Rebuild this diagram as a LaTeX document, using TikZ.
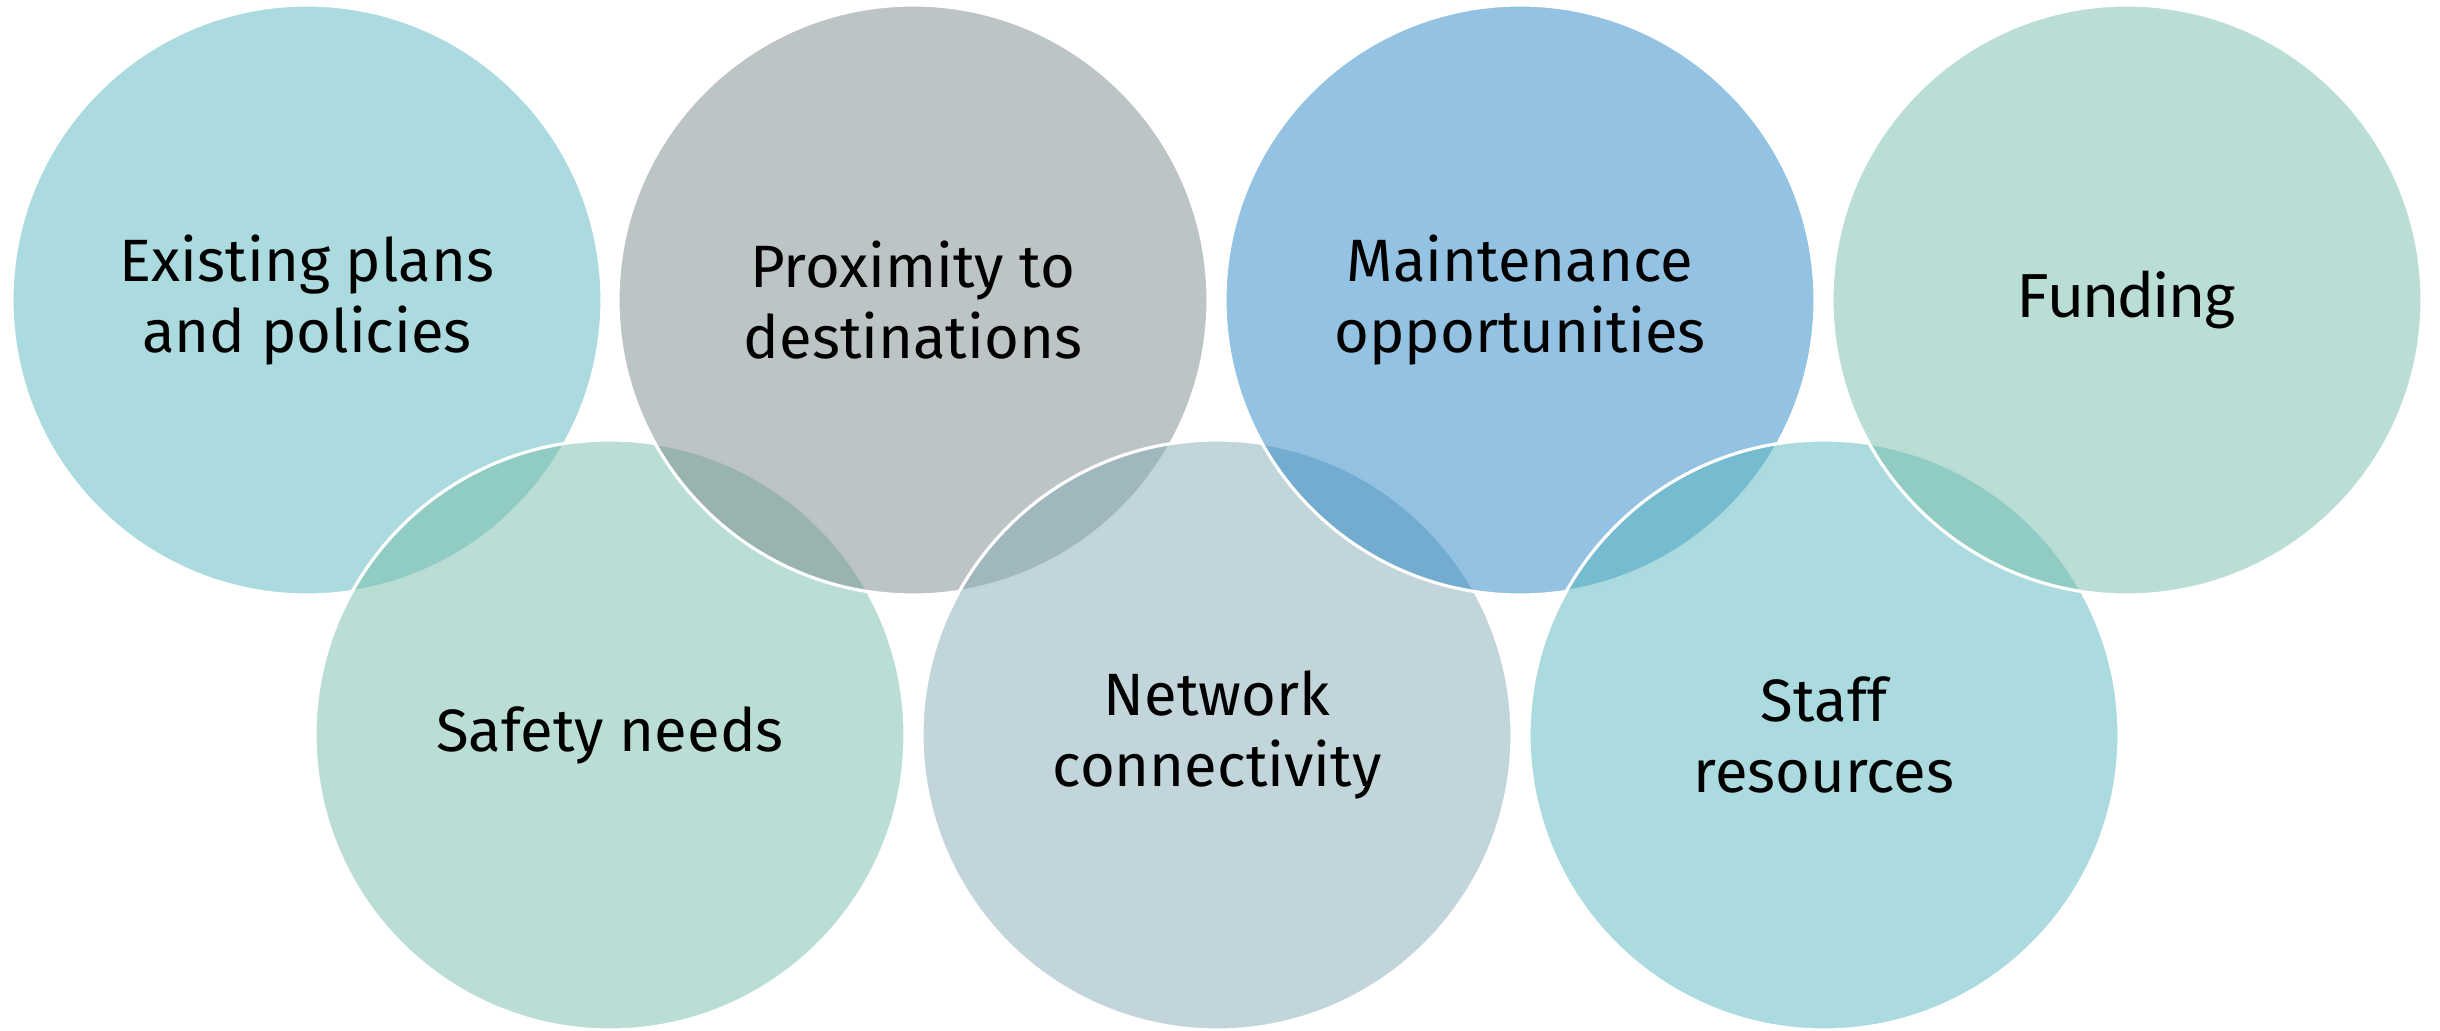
\documentclass[tikz,border=0pt]{standalone}
\usepackage{fontspec}
\setmainfont{Fira Sans}
\newfontfamily\fundfont{Carlito}

% base colours, seen at half opacity over white
\definecolor{tealc}{RGB}{89,183,191}
\definecolor{mintc}{RGB}{117,189,171}
\definecolor{grayc}{RGB}{121,137,139}
\definecolor{netc}{RGB}{133,171,183}
\definecolor{bluec}{RGB}{41,133,197}

\begin{document}
\begin{tikzpicture}[
  bubble/.style={circle, minimum size=5.9cm, inner sep=0pt, draw=white,
    line width=0.9pt, fill opacity=0.5, text opacity=1, align=center,
    font=\fontsize{17}{20}\selectfont}]

\useasboundingbox (0,0) rectangle (24.4,10.3);

% Circles, drawn left to right so each one lies over the last
\node[bubble, fill=tealc] (plans) at (3.07,7.30) {Existing plans\\and policies};
\node[bubble, fill=mintc] (safety) at (6.10,2.95) {Safety needs};
\node[bubble, fill=grayc] (proximity) at (9.13,7.30) {Proximity to\\destinations};
\node[bubble, fill=netc] (network) at (12.17,2.95) {Network\\connectivity};
\node[bubble, fill=bluec] (maint) at (15.20,7.30) {Maintenance\\opportunities};
\node[bubble, fill=tealc] (staff) at (18.24,2.95) {Staff\\resources};
\node[bubble, fill=mintc, font=\fundfont\fontsize{19}{22}\selectfont] (funding) at (21.27,7.30) {Funding};

\end{tikzpicture}
\end{document}
